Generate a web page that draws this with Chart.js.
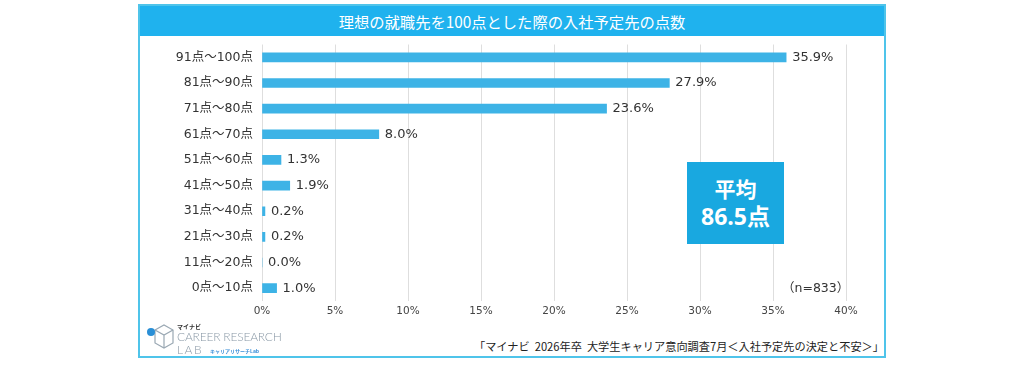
<!DOCTYPE html>
<html lang="ja">
<head>
<meta charset="utf-8">
<script src="https://cdn.jsdelivr.net/npm/chart.js@4/dist/chart.umd.min.js"></script>
<style>
  body { margin: 0; width: 1024px; height: 365px; background: #fff; position: relative; overflow: hidden;
         font-family: 'DejaVu Sans', 'Noto Sans CJK JP', sans-serif; color: #333; }
  #frame { position: absolute; left: 138px; top: 4px; width: 744px; height: 350px; border: 2px solid #4fc4ea; }
  #title { position: absolute; left: 0; top: 0; width: 100%; height: 30px; background: #1fb2ee; color: #fff;
           font-family: 'Noto Sans CJK JP', sans-serif; font-size: 15.3px; line-height: 30px; text-align: center; }
  #chartBox { position: absolute; left: 140px; top: 28px; width: 740px; height: 297px; }
  #avg { position: absolute; left: 687px; top: 162px; width: 97px; height: 82px; background: #19a8e0; color: #fff;
         font-family: 'Open Sans', 'Noto Sans CJK JP', sans-serif; font-weight: bold; text-align: center; }
  #avg .l1 { position: absolute; top: 14px; width: 100%; font-size: 21px; line-height: 26px; }
  #avg .l2 { position: absolute; top: 40px; width: 100%; font-size: 23px; line-height: 28px; }
  #n { position: absolute; left: 782px; top: 277px; font-size: 12.5px; color: #333; }
  #source { position: absolute; right: 140px; top: 338px; font-family: 'Noto Sans CJK JP', sans-serif;
            font-size: 11.2px; color: #222; white-space: pre; }
  #logo { position: absolute; left: 146px; top: 321px; width: 150px; height: 34px; }
  #logo .mn { position: absolute; left: 31px; top: 1px; font-family: 'Noto Sans CJK JP'; font-size: 6px; font-weight: bold; color: #333; }
  #logo .crl { position: absolute; left: 31px; top: 8px; font-size: 12px; color: #8a99a6; letter-spacing: -0.2px;
               font-family: 'Lato', 'Noto Sans', sans-serif; font-weight: 300; }
  #logo .lab { position: absolute; left: 31px; top: 21px; font-size: 12px; color: #8a99a6; letter-spacing: 1.5px;
               font-family: 'Lato', 'Noto Sans', sans-serif; font-weight: 300; }
  #logo .sub { position: absolute; left: 64px; top: 26px; font-family: 'Noto Sans CJK JP'; font-size: 5px; color: #3b8fd8; font-weight: bold; }
</style>
</head>
<body>
<div id="frame"><div id="title">理想の就職先を100点とした際の入社予定先の点数</div></div>
<div id="chartBox"><canvas id="myChart"></canvas></div>
<div id="avg"><div class="l1">平均</div><div class="l2"></div></div>
<div id="n"></div>
<div id="source">「マイナビ  2026年卒  大学生キャリア意向調査7月＜入社予定先の決定と不安＞」</div>
<div id="logo">
  <svg width="30" height="34" viewBox="0 0 30 34">
    <path d="M9 9 L18 4 L27 9 L27 22 L18 27 L9 22 Z" fill="none" stroke="#9aa8b3" stroke-width="1.2"/>
    <path d="M9 9 L18 14 L27 9 M18 14 L18 27" fill="none" stroke="#9aa8b3" stroke-width="1.2"/>
    <circle cx="5" cy="11" r="4" fill="#2a8fd6"/>
  </svg>
  <div class="mn">マイナビ</div>
  <div class="crl">CAREER RESEARCH</div>
  <div class="lab">LAB</div>
  <div class="sub">キャリアリサーチLab</div>
</div>
<script>
const categories = ['91点～100点', '81点～90点', '71点～80点', '61点～70点', '51点～60点',
                    '41点～50点', '31点～40点', '21点～30点', '11点～20点', '0点～10点'];
const shares = [35.9, 27.9, 23.6, 8.0, 1.3, 1.9, 0.2, 0.2, 0.0, 1.0];
const xTicks = [0, 5, 10, 15, 20, 25, 30, 35, 40];
const avgScore = 86.5;
const sampleSize = 833;

document.querySelector('#avg .l2').textContent = avgScore.toFixed(1) + '点';
document.getElementById('n').textContent = '（n=' + sampleSize + '）';

const fontFam = "'DejaVu Sans', 'Noto Sans CJK JP'";

const valueLabels = {
    id: 'valueLabels',
    afterDatasetsDraw(chart) {
        const c = chart.ctx;
        c.save();
        c.font = '13px ' + fontFam;
        c.fillStyle = '#333';
        c.textAlign = 'left';
        c.textBaseline = 'middle';
        chart.getDatasetMeta(0).data.forEach((bar, i) => {
            c.fillText(shares[i].toFixed(1) + '%', bar.x + 6, bar.y);
        });
        c.restore();
    }
};

const ctx = document.getElementById('myChart').getContext('2d');
const myChartObj = new Chart(ctx, {
    type: 'bar',
    data: {
        labels: categories,
        datasets: [{
            data: shares,
            backgroundColor: '#3db3e6',
            barThickness: 9,
            borderWidth: 0
        }]
    },
    options: {
        indexAxis: 'y',
        responsive: true,
        maintainAspectRatio: false,
        animation: false,
        layout: { padding: { top: 4, right: 34, left: 0, bottom: 0 } },
        plugins: { legend: { display: false }, tooltip: { enabled: false } },
        scales: {
            x: {
                min: 0, max: 40,
                afterFit(scale) { scale.height = 24; },
                afterBuildTicks(scale) { scale.ticks = xTicks.map(v => ({ value: v })); },
                grid: { color: '#dedede', drawTicks: false },
                border: { display: false },
                ticks: {
                    padding: 4,
                    color: '#444',
                    font: { family: fontFam, size: 10.5 },
                    callback: v => v + '%'
                }
            },
            y: {
                afterFit(scale) { scale.width = 122; },
                grid: { display: false, drawTicks: false },
                border: { display: false },
                ticks: {
                    padding: 9,
                    color: '#333',
                    font: { family: fontFam, size: 12.5 }
                }
            }
        }
    },
    plugins: [valueLabels]
});
</script>
</body>
</html>
